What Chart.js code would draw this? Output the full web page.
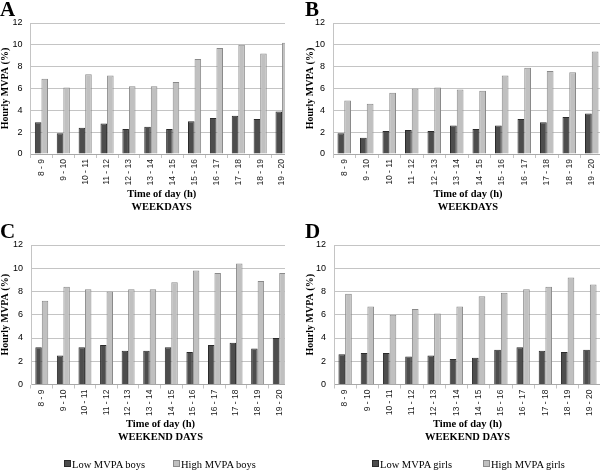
<!DOCTYPE html>
<html>
<head>
<meta charset="utf-8">
<script src="https://cdn.jsdelivr.net/npm/chart.js@4.4.1/dist/chart.umd.min.js"></script>
<style>
  html, body { margin: 0; padding: 0; background: #fff; overflow: hidden; }
  #wrap { position: relative; width: 600px; height: 471px; overflow: hidden; }
  .panel { position: absolute; overflow: hidden; }
  .panel canvas { display: block; }
  .legend { position: absolute; top: 459px; font: 10.5px "Liberation Serif", serif; color: #000; white-space: nowrap; }
  .legend span.item { position: absolute; top: 0; }
  .legend i { display: inline-block; width: 5px; height: 5px; margin-right: 1px; vertical-align: 1px; }
</style>
</head>
<body>
<div id="wrap">
  <div class="panel" style="left:0;top:0;width:285px;height:218px"><canvas id="cA" width="296" height="218"></canvas></div>
  <div class="panel" style="left:300px;top:0;width:300px;height:218px"><canvas id="cB" width="306" height="218"></canvas></div>
  <div class="panel" style="left:0;top:220px;width:285px;height:251px"><canvas id="cC" width="293" height="251"></canvas></div>
  <div class="panel" style="left:300px;top:220px;width:300px;height:251px"><canvas id="cD" width="304" height="251"></canvas></div>
  <div class="legend" id="legC"></div>
  <div class="legend" id="legD"></div>
</div>
<script>
// time slots
var hours = ['8 - 9', '9 - 10', '10 - 11', '11 - 12', '12 - 13', '13 - 14',
             '14 - 15', '15 - 16', '16 - 17', '17 - 18', '18 - 19', '19 - 20'];

// A: boys, weekdays
var boysWeekLow  = [2.9, 1.9, 2.4, 2.8, 2.3, 2.5, 2.3, 3.0, 3.3, 3.5, 3.2, 3.9];
var boysWeekHigh = [6.9, 6.1, 7.3, 7.2, 6.2, 6.2, 6.6, 8.7, 9.7, 10.0, 9.2, 10.2];
// B: girls, weekdays
var girlsWeekLow  = [1.9, 1.5, 2.1, 2.2, 2.1, 2.6, 2.3, 2.6, 3.2, 2.9, 3.4, 3.7];
var girlsWeekHigh = [4.9, 4.6, 5.6, 6.0, 6.1, 5.9, 5.8, 7.2, 7.9, 7.6, 7.5, 9.4];
// C: boys, weekend days
var boysWkndLow  = [3.2, 2.5, 3.2, 3.4, 2.9, 2.9, 3.2, 2.8, 3.4, 3.6, 3.1, 4.0];
var boysWkndHigh = [7.2, 8.4, 8.2, 8.0, 8.2, 8.2, 8.8, 9.8, 9.6, 10.4, 8.9, 9.6];
// D: girls, weekend days
var girlsWkndLow  = [2.6, 2.7, 2.7, 2.4, 2.5, 2.2, 2.3, 3.0, 3.2, 2.9, 2.8, 3.0];
var girlsWkndHigh = [7.8, 6.7, 6.0, 6.5, 6.1, 6.7, 7.6, 7.9, 8.2, 8.4, 9.2, 8.6];

var lowFill = '#4d4d4d', lowLine = '#2b2b2b';
var highFill = '#c0c0c0', highLine = '#8a8a8a';
var gridCol = '#c4c4c4';

function makePanel(id, letter, low, high, lowName, highName, days, g) {
  var ctx = document.getElementById(id).getContext('2d');
  return new Chart(ctx, {
    type: 'bar',
    data: {
      labels: hours,
      datasets: [
        { label: lowName, data: low, backgroundColor: lowFill, borderColor: lowLine, borderWidth: 1,
          categoryPercentage: 0.6, barPercentage: 1.0 },
        { label: highName, data: high, backgroundColor: highFill, borderColor: highLine, borderWidth: 1,
          categoryPercentage: 0.6, barPercentage: 1.0 }
      ]
    },
    options: {
      responsive: false,
      animation: false,
      layout: { padding: { left: g.padLeft, right: 3, top: 0, bottom: g.padBottom } },
      plugins: {
        legend: { display: false },
        tooltip: { enabled: false },
        title: {
          display: true, text: letter, align: 'start', color: '#000',
          font: { family: 'Liberation Serif', size: 21, weight: 'bold', lineHeight: 1 },
          padding: { top: g.titleTop, bottom: 2 }
        }
      },
      scales: {
        x: {
          grid: { display: true, drawOnChartArea: false, offset: true, color: gridCol, tickLength: 4 },
          border: { color: '#a8a8a8' },
          ticks: { autoSkip: false, maxRotation: 90, minRotation: 90, padding: 1, color: '#222',
                   font: { family: 'Liberation Sans', size: 8.5 } },
          title: { display: true, text: ['Time of day (h)', days], color: '#000', padding: 0,
                   font: { family: 'Liberation Serif', size: 10.5, weight: 'bold', lineHeight: 1.25 } },
          afterFit: function (s) { s.height = g.xHeight; }
        },
        y: {
          min: 0, max: 12,
          grid: { color: gridCol, drawTicks: false },
          border: { color: gridCol },
          ticks: { stepSize: 2, padding: 8, color: '#000', font: { family: 'Liberation Sans', size: 9 } },
          title: { display: true, text: 'Hourly MVPA (%)', color: '#000', padding: 0,
                   font: { family: 'Liberation Serif', size: 10, weight: 'bold', lineHeight: 1 } },
          afterFit: function (s) { s.width = g.yWidth; }
        }
      }
    }
  });
}

makePanel('cA', 'A', boysWeekLow, boysWeekHigh, 'Low MVPA boys', 'High MVPA boys', 'WEEKDAYS',
  { padLeft: 0, padBottom: 4, titleTop: 0, yWidth: 30.5, xHeight: 60 });
makePanel('cB', 'B', girlsWeekLow, girlsWeekHigh, 'Low MVPA girls', 'High MVPA girls', 'WEEKDAYS',
  { padLeft: 5, padBottom: 4, titleTop: 0, yWidth: 28, xHeight: 60 });
makePanel('cC', 'C', boysWkndLow, boysWkndHigh, 'Low MVPA boys', 'High MVPA boys', 'WEEKEND DAYS',
  { padLeft: 0, padBottom: 27, titleTop: 2, yWidth: 31, xHeight: 59.5 });
makePanel('cD', 'D', girlsWkndLow, girlsWkndHigh, 'Low MVPA girls', 'High MVPA girls', 'WEEKEND DAYS',
  { padLeft: 5, padBottom: 27, titleTop: 2, yWidth: 29, xHeight: 59.5 });

// legends under the weekend panels
function legend(id, left, items) {
  var el = document.getElementById(id);
  el.style.left = left + 'px';
  items.forEach(function (it) {
    var s = document.createElement('span');
    s.className = 'item';
    s.style.left = it.x + 'px';
    s.innerHTML = '<i style="background:' + it.fill + ';border:1px solid ' + it.line + '"></i>';
    s.appendChild(document.createTextNode(it.text));
    el.appendChild(s);
  });
}
legend('legC', 64, [
  { x: 0, text: 'Low MVPA boys', fill: lowFill, line: lowLine },
  { x: 109, text: 'High MVPA boys', fill: highFill, line: highLine }
]);
legend('legD', 372, [
  { x: 0, text: 'Low MVPA girls', fill: lowFill, line: lowLine },
  { x: 111, text: 'High MVPA girls', fill: highFill, line: highLine }
]);
</script>
</body>
</html>
